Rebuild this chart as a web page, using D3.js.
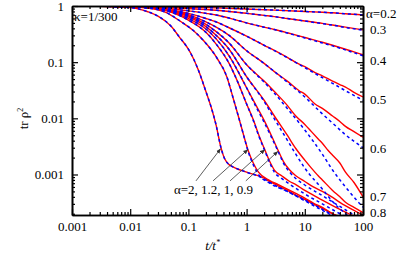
<!DOCTYPE html>
<html>
<head>
<meta charset="utf-8">
<script src="https://cdn.jsdelivr.net/npm/d3@7"></script>
<style>
  body { margin: 0; background: #fff; }
  svg { font-family: "Liberation Serif", "Times New Roman", serif; }
  svg text { font-family: "Liberation Serif", "Times New Roman", serif; font-size: 13px; fill: #000; }
</style>
</head>
<body>
<svg id="chart" width="415" height="255"></svg>
<script>
// purity decay, kappa = 1/300
const alphas = [0.2, 0.3, 0.4, 0.5, 0.6, 0.7, 0.8, 0.9, 1, 1.2, 2]
const rightLabels = ['α=0.2', '0.3', '0.4', '0.5', '0.6', '0.7', '0.8']
const rightLabelY = [0.71, 0.37, 0.105, 0.021, 0.0029, 0.00039, 0.00021]
const xTicks = [0.001, 0.01, 0.1, 1, 10, 100]
const yTicks = [0.001, 0.01, 0.1, 1]

// theory (blue dashed), [t/t*, tr rho^2]
const theory02 = [[0.001,0.995],[0.01,0.985],[0.03,0.97],[0.1,0.95],[0.3,0.925],[1,0.885],[3,0.845],[10,0.8],[30,0.755],[100,0.69]]
const theory03 = [[0.001,0.996],[0.003,0.99],[0.01,0.975],[0.03,0.95],[0.1,0.9],[0.3,0.84],[0.5,0.8],[1,0.74],[2,0.68],[3,0.645],[5,0.6],[10,0.54],[20,0.485],[30,0.455],[50,0.415],[100,0.37]]
const theory04 = [[0.001,0.997],[0.003,0.99],[0.01,0.97],[0.03,0.92],[0.1,0.82],[0.2,0.74],[0.3,0.69],[0.5,0.61],[1,0.5],[2,0.42],[3,0.38],[5,0.33],[10,0.27],[20,0.22],[30,0.195],[50,0.165],[100,0.13]]
const theory05 = [[0.001,0.998],[0.003,0.99],[0.01,0.965],[0.03,0.9],[0.1,0.74],[0.2,0.6],[0.3,0.52],[0.5,0.41],[1,0.29],[2,0.2],[3,0.16],[5,0.12],[10,0.08],[20,0.053],[30,0.042],[50,0.031],[100,0.021]]
const theory06 = [[0.001,0.999],[0.003,0.993],[0.01,0.97],[0.03,0.9],[0.1,0.7],[0.2,0.52],[0.3,0.42],[0.5,0.3],[1,0.16],[2,0.095],[3,0.068],[5,0.044],[10,0.024],[20,0.012],[30,0.0082],[50,0.0051],[100,0.003]]
const theory07 = [[0.001,1],[0.003,0.995],[0.01,0.972],[0.03,0.9],[0.1,0.67],[0.2,0.47],[0.3,0.35],[0.5,0.22],[1,0.09],[2,0.044],[3,0.028],[5,0.015],[10,0.0062],[20,0.0023],[30,0.0012],[50,0.0006],[100,0.00026]]
const theory08 = [[0.001,1],[0.003,0.996],[0.01,0.975],[0.03,0.9],[0.1,0.64],[0.2,0.43],[0.3,0.3],[0.5,0.17],[1,0.055],[2,0.02],[3,0.0098],[5,0.0041],[7,0.0023],[10,0.0013],[20,0.00055],[30,0.00033],[50,0.0002],[70,0.00015]]
const theory09 = [[0.001,1],[0.003,0.996],[0.01,0.975],[0.03,0.895],[0.1,0.6],[0.2,0.39],[0.3,0.26],[0.5,0.13],[1,0.035],[1.5,0.015],[2,0.0085],[2.7,0.0045],[3.47,0.0026],[4.3,0.0016],[5.5,0.0011],[7,0.00085],[10,0.00065],[20,0.00042],[40,0.00027],[70,0.00019],[100,0.00015]]
const theory10 = [[0.001,1],[0.003,0.996],[0.01,0.975],[0.03,0.89],[0.1,0.56],[0.2,0.34],[0.3,0.21],[0.5,0.095],[0.7,0.045],[1,0.018],[1.3,0.0092],[1.65,0.0046],[2.07,0.0026],[2.5,0.0016],[3,0.0011],[4,0.00085],[5.5,0.00067],[10,0.00045],[20,0.0003],[40,0.0002],[60,0.00016]]
const theory12 = [[0.001,1],[0.003,0.995],[0.01,0.97],[0.02,0.92],[0.04,0.78],[0.08,0.5],[0.12,0.37],[0.18,0.245],[0.31,0.118],[0.46,0.054],[0.58,0.024],[0.72,0.011],[0.88,0.0052],[1.06,0.0026],[1.3,0.0015],[1.6,0.001],[2.5,0.0007],[5,0.0005],[10,0.00035],[20,0.00024],[40,0.00016]]
const theory20 = [[0.001,0.999],[0.003,0.99],[0.01,0.94],[0.02,0.79],[0.03,0.66],[0.05,0.44],[0.07,0.28],[0.1,0.17],[0.12,0.12],[0.15,0.07],[0.2,0.03],[0.25,0.015],[0.3,0.0075],[0.36,0.0031],[0.42,0.0019],[0.5,0.0015],[0.56,0.0014],[1,0.0011],[1.9,0.00086],[2.5,0.00072],[5,0.0005],[10,0.00034],[20,0.00023],[40,0.00016]]

// simulation (red solid)
const sim02 = [[0.001,0.995],[0.01,0.985],[0.03,0.97],[0.1,0.95],[0.3,0.925],[1,0.884],[3,0.846],[10,0.8],[20,0.772],[30,0.757],[50,0.726],[100,0.695]]
const sim03 = [[0.001,0.996],[0.003,0.99],[0.01,0.975],[0.03,0.95],[0.1,0.9],[0.3,0.84],[0.5,0.8],[1,0.74],[2,0.68],[3,0.647],[5,0.6],[10,0.542],[20,0.49],[30,0.458],[50,0.42],[100,0.375]]
const sim04 = [[0.001,0.997],[0.003,0.99],[0.01,0.97],[0.03,0.92],[0.1,0.82],[0.2,0.74],[0.3,0.69],[0.5,0.61],[1,0.5],[2,0.42],[3,0.382],[5,0.334],[10,0.275],[20,0.226],[30,0.2],[50,0.17],[70,0.152],[100,0.135]]
const sim05 = [[0.001,0.998],[0.003,0.99],[0.01,0.965],[0.03,0.9],[0.1,0.74],[0.2,0.6],[0.3,0.52],[0.5,0.41],[1,0.29],[2,0.2],[3,0.162],[5,0.122],[8,0.092],[10,0.083],[15,0.065],[20,0.057],[30,0.046],[40,0.04],[50,0.036],[70,0.029],[100,0.024]]
const sim06 = [[0.001,0.999],[0.003,0.993],[0.01,0.97],[0.03,0.9],[0.1,0.7],[0.2,0.52],[0.3,0.42],[0.5,0.3],[1,0.16],[2,0.095],[3,0.068],[5,0.046],[8,0.031],[10,0.027],[15,0.018],[20,0.015],[30,0.011],[40,0.0088],[50,0.0072],[70,0.0058],[100,0.0046]]
const sim07 = [[0.001,1],[0.003,0.995],[0.01,0.972],[0.03,0.9],[0.1,0.67],[0.2,0.47],[0.3,0.35],[0.5,0.22],[1,0.09],[2,0.046],[3,0.03],[5,0.017],[7,0.011],[10,0.0078],[13,0.0058],[17,0.0043],[20,0.0036],[25,0.0027],[30,0.0022],[40,0.0016],[50,0.0011],[70,0.00072],[100,0.0004]]
const sim08 = [[0.001,1],[0.003,0.996],[0.01,0.975],[0.03,0.9],[0.1,0.64],[0.2,0.43],[0.3,0.3],[0.5,0.17],[1,0.055],[2,0.021],[3,0.011],[5,0.005],[7,0.0029],[10,0.0018],[13,0.0013],[17,0.00095],[20,0.0008],[30,0.00052],[40,0.0004],[50,0.00032],[70,0.00026],[100,0.00021]]
const sim09 = [[0.001,1],[0.003,0.996],[0.01,0.975],[0.03,0.895],[0.1,0.6],[0.2,0.39],[0.3,0.26],[0.5,0.13],[1,0.035],[1.5,0.016],[2,0.0092],[2.7,0.0048],[3.47,0.0027],[4.3,0.0017],[5.5,0.0012],[7,0.00095],[10,0.00075],[14,0.0006],[20,0.0005],[30,0.00039],[40,0.00032],[70,0.00023],[100,0.00019]]
const sim10 = [[0.001,1],[0.003,0.996],[0.01,0.975],[0.03,0.89],[0.1,0.56],[0.2,0.34],[0.3,0.21],[0.5,0.095],[0.7,0.045],[1,0.018],[1.3,0.0095],[1.65,0.0048],[2.07,0.0027],[2.5,0.0017],[3,0.0012],[4,0.00095],[5.5,0.00075],[7,0.00066],[10,0.00052],[14,0.00043],[20,0.00035],[30,0.00028],[40,0.00024],[80,0.00017]]
const sim12 = [[0.001,1],[0.003,0.995],[0.01,0.97],[0.02,0.92],[0.04,0.78],[0.08,0.5],[0.12,0.37],[0.18,0.245],[0.31,0.118],[0.46,0.054],[0.58,0.024],[0.72,0.011],[0.88,0.0052],[1.06,0.0027],[1.3,0.0016],[1.6,0.0011],[2.5,0.00078],[3.5,0.00066],[5,0.00055],[7,0.00046],[10,0.00038],[14,0.00031],[20,0.00026],[30,0.0002],[45,0.00017]]
const sim20 = [[0.001,0.999],[0.003,0.99],[0.01,0.94],[0.02,0.79],[0.03,0.66],[0.05,0.44],[0.07,0.28],[0.1,0.17],[0.12,0.12],[0.15,0.07],[0.2,0.03],[0.25,0.015],[0.3,0.0075],[0.36,0.0031],[0.42,0.0019],[0.5,0.0015],[0.56,0.0014],[1,0.0011],[1.9,0.00088],[2.5,0.00075],[3.5,0.00063],[5,0.00052],[7,0.00043],[10,0.00036],[14,0.0003],[20,0.00025],[30,0.0002],[40,0.00017]]

const theoryCurves = [theory02, theory03, theory04, theory05, theory06, theory07, theory08, theory09, theory10, theory12, theory20]
const simCurves = [sim02, sim03, sim04, sim05, sim06, sim07, sim08, sim09, sim10, sim12, sim20]

// annotation: arrows from the label to the knees of alpha = 2, 1.2, 1, 0.9
const arrowTips = [[0.36, 0.0029], [1.06, 0.0028], [2.07, 0.0028], [3.47, 0.0026]]
const arrowTails = [[0.135, 0.00077], [0.265, 0.00077], [0.52, 0.00077], [0.97, 0.00077]]

const margin = {top: 6, right: 52, bottom: 40, left: 72}
const width = 415 - margin.left - margin.right
const height = 255 - margin.top - margin.bottom

const svg = d3.select('#chart')
const g = svg.append('g').attr('transform', 'translate(' + margin.left + ',' + margin.top + ')')

const xScale = d3.scaleLog().domain([0.001, 100]).range([0, width])
const yScale = d3.scaleLog().domain([0.00019, 1]).range([height, 0])

const minorX = []
const minorY = []
for (let e = -3; e < 2; e++) for (let k = 2; k < 10; k++) minorX.push(k * Math.pow(10, e))
for (let e = -4; e < 0; e++) for (let k = 2; k < 10; k++) {
  const v = k * Math.pow(10, e)
  if (v >= 0.00019) minorY.push(v)
}

g.append('clipPath').attr('id', 'clip')
  .append('rect').attr('width', width).attr('height', height)

const line = d3.line()
  .x(d => xScale(d[0]))
  .y(d => yScale(d[1]))
  .curve(d3.curveMonotoneX)

const curves = g.append('g').attr('clip-path', 'url(#clip)')

simCurves.forEach(c => {
  curves.append('path').datum(c)
    .attr('d', line)
    .attr('fill', 'none')
    .attr('stroke', '#ff0000')
    .attr('stroke-width', 1.4)
})
theoryCurves.forEach(c => {
  curves.append('path').datum(c)
    .attr('d', line)
    .attr('fill', 'none')
    .attr('stroke', '#0000ff')
    .attr('stroke-width', 1.5)
    .attr('stroke-dasharray', '3,3')
})

// axes, ticks pointing inwards on all four sides
const decimal = d => d >= 1 ? String(d) : d.toFixed(Math.round(-Math.log10(d)))

const axisStyle = sel => {
  sel.attr('font-family', null).attr('font-size', null)
  sel.select('.domain').attr('stroke', '#000').attr('stroke-width', 1.6)
  sel.selectAll('.tick line').attr('stroke', '#000').attr('stroke-width', 1.2)
}

g.append('g').attr('transform', 'translate(0,' + height + ')')
  .call(d3.axisBottom(xScale).tickValues(xTicks).tickFormat(decimal).tickSizeInner(-6).tickSizeOuter(0).tickPadding(7))
  .call(axisStyle)
g.append('g').attr('transform', 'translate(0,' + height + ')')
  .call(d3.axisBottom(xScale).tickValues(minorX).tickFormat('').tickSizeInner(-3).tickSizeOuter(0))
  .call(axisStyle)
g.append('g')
  .call(d3.axisTop(xScale).tickValues(xTicks).tickFormat('').tickSizeInner(-6).tickSizeOuter(0))
  .call(axisStyle)
g.append('g')
  .call(d3.axisTop(xScale).tickValues(minorX).tickFormat('').tickSizeInner(-3).tickSizeOuter(0))
  .call(axisStyle)

g.append('g')
  .call(d3.axisLeft(yScale).tickValues(yTicks).tickFormat(decimal).tickSizeInner(-6).tickSizeOuter(0).tickPadding(8))
  .call(axisStyle)
g.append('g')
  .call(d3.axisLeft(yScale).tickValues(minorY).tickFormat('').tickSizeInner(-3).tickSizeOuter(0))
  .call(axisStyle)
g.append('g').attr('transform', 'translate(' + width + ',0)')
  .call(d3.axisRight(yScale).tickValues(yTicks).tickFormat('').tickSizeInner(-6).tickSizeOuter(0))
  .call(axisStyle)
g.append('g').attr('transform', 'translate(' + width + ',0)')
  .call(d3.axisRight(yScale).tickValues(minorY).tickFormat('').tickSizeInner(-3).tickSizeOuter(0))
  .call(axisStyle)

// axis titles
const xTitle = g.append('text')
  .attr('x', xScale(0.26))
  .attr('y', height + 35)
  .attr('text-anchor', 'middle')
  .style('font-style', 'italic')
xTitle.append('tspan').text('t/t')
xTitle.append('tspan').attr('dy', -5).style('font-size', '8px').text('*')

const yTitle = g.append('text')
  .attr('transform', 'translate(' + (-44) + ',' + (height / 2 + 8) + ') rotate(-90)')
  .attr('text-anchor', 'middle')
yTitle.append('tspan').text('tr ρ')
yTitle.append('tspan').attr('dy', -5).style('font-size', '8px').text('2')

g.append('text').attr('x', 2).attr('y', 15).text('κ=1/300')

// alpha labels on the right
g.selectAll('.alabel')
  .data(rightLabels)
  .enter()
  .append('text')
  .attr('class', 'alabel')
  .attr('x', (d, i) => width + (i === 0 ? 3 : 7))
  .attr('y', (d, i) => yScale(rightLabelY[i]) + 4)
  .text(d => d)

// arrows
svg.append('defs').append('marker')
  .attr('id', 'head')
  .attr('viewBox', '0 0 8 8')
  .attr('refX', 7).attr('refY', 4)
  .attr('markerWidth', 7).attr('markerHeight', 7)
  .attr('orient', 'auto')
  .append('path').attr('d', 'M0,1 L7,4 L0,7 Z').attr('fill', '#333')

g.selectAll('.arrow')
  .data(arrowTips)
  .enter()
  .append('line')
  .attr('class', 'arrow')
  .attr('x1', (d, i) => xScale(arrowTails[i][0]))
  .attr('y1', (d, i) => yScale(arrowTails[i][1]))
  .attr('x2', d => xScale(d[0]))
  .attr('y2', d => yScale(d[1]))
  .attr('stroke', '#333')
  .attr('stroke-width', 0.8)
  .attr('marker-end', 'url(#head)')

g.append('text')
  .attr('x', xScale(0.27))
  .attr('y', yScale(0.00045))
  .attr('text-anchor', 'middle')
  .text('α=2, 1.2, 1, 0.9')
</script>
</body>
</html>
